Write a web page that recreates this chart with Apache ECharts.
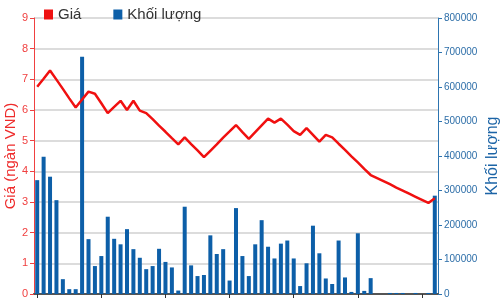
<!DOCTYPE html>
<html><head><meta charset="utf-8">
<script src="https://cdn.jsdelivr.net/npm/echarts@6/dist/echarts.min.js"></script>
<style>html,body{margin:0;padding:0;background:#fff}#c{width:501px;height:300px}</style>
</head><body><div id="c"></div>
<script>
const categories = Array.from({length: 63}, (_, i) => 'P' + (i + 1));
const priceValues = [6.76,7.02,7.29,6.99,6.69,6.38,6.08,6.34,6.60,6.53,6.22,5.90,6.10,6.30,6.00,6.30,5.98,5.90,5.70,5.49,5.29,5.08,4.88,5.11,4.89,4.68,4.46,4.67,4.88,5.10,5.30,5.51,5.28,5.06,5.28,5.50,5.72,5.59,5.72,5.52,5.31,5.19,5.41,5.19,4.97,5.19,5.11,4.90,4.70,4.49,4.29,4.08,3.88,3.78,3.68,3.58,3.47,3.37,3.27,3.17,3.07,2.97,3.12];
const volumeValues = [330000,398000,340000,272000,43000,14000,14000,688000,159000,81000,110000,224000,160000,144000,188000,130000,105000,72000,81000,131000,93000,77000,10000,253000,83000,52000,55000,170000,116000,130000,39000,249000,110000,52000,144000,214000,137000,103000,146000,155000,103000,23000,89000,198000,118000,45000,29000,155000,48000,6000,176000,9000,46000,0,0,3000,3000,3000,0,3000,0,3000,285000];
const priceTicks = {min: 0, max: 9, interval: 1};
const volumeTicks = {min: 0, max: 800000, interval: 100000};

const chart = echarts.init(document.getElementById('c'), null, {renderer: 'canvas'});
const FONT = 'Liberation Sans';
chart.setOption({
  animation: false,
  textStyle: {fontFamily: FONT},
  legend: {
    left: 39, top: 2, itemWidth: 9, itemHeight: 10, itemGap: 32, icon: 'rect',
    textStyle: {fontSize: 15, color: '#333', fontFamily: FONT},
    data: ['Giá', 'Khối lượng']
  },
  grid: {left: 34, right: 63, top: 18, bottom: 6, containLabel: false, outerBoundsMode: 'none'},
  xAxis: [{
    type: 'category', data: categories, boundaryGap: true,
    axisLine: {show: true, lineStyle: {color: '#333', width: 1.5}},
    axisTick: {show: true, alignWithLabel: true, interval: 9, length: 4, lineStyle: {color: '#333'}},
    axisLabel: {show: false}, splitLine: {show: false}
  }, {
    type: 'category', data: categories, position: 'top',
    axisLine: {show: true, lineStyle: {color: '#555', width: 2}},
    axisTick: {show: false}, axisLabel: {show: false}
  }],
  yAxis: [{
    type: 'value', position: 'left', min: priceTicks.min, max: priceTicks.max, interval: priceTicks.interval,
    name: 'Giá (ngàn VND)', nameLocation: 'middle', nameRotate: 90, nameGap: 16, nameMoveOverlap: false,
    nameTextStyle: {color: '#ee2b2b', fontSize: 15, fontFamily: FONT},
    axisLine: {show: true, lineStyle: {color: '#f04040', width: 1}},
    axisTick: {show: true, length: 4, lineStyle: {color: '#f04040'}},
    axisLabel: {color: '#f04040', fontSize: 11, margin: 6, formatter: v => String(v)},
    splitLine: {show: true, lineStyle: {color: '#d0d0d0', width: 1.5}}
  }, {
    type: 'value', position: 'right', min: volumeTicks.min, max: volumeTicks.max, interval: volumeTicks.interval,
    name: 'Khối lượng', nameLocation: 'middle', nameRotate: 90, nameGap: 47, nameMoveOverlap: false,
    nameTextStyle: {color: '#1c64a6', fontSize: 16, fontFamily: FONT},
    axisLine: {show: true, lineStyle: {color: '#2d74b0', width: 1}},
    axisTick: {show: true, length: 4, lineStyle: {color: '#2d74b0'}},
    axisLabel: {color: '#2d6ea8', fontSize: 10, margin: 6, formatter: v => String(v)},
    splitLine: {show: false}
  }],
  series: [{
    name: 'Khối lượng', type: 'bar', yAxisIndex: 1, data: volumeValues,
    barWidth: 4, itemStyle: {color: '#0d5fa8'}, z: 2
  }, {
    name: 'Giá', type: 'line', yAxisIndex: 0, data: priceValues,
    showSymbol: false, symbol: 'none',
    lineStyle: {color: '#f01010', width: 2.5}, itemStyle: {color: '#ee1111'}, z: 3
  }]
});
</script></body></html>
